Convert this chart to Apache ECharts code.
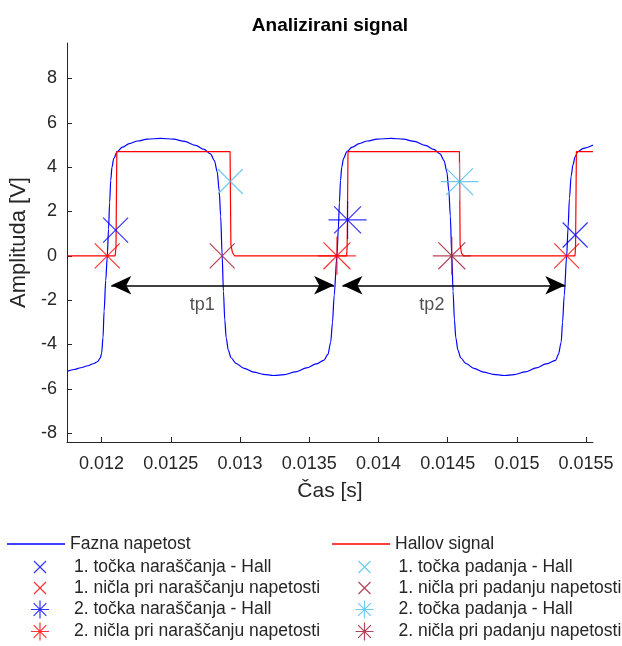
<!DOCTYPE html>
<html>
<head>
<meta charset="utf-8">
<script src="https://cdn.jsdelivr.net/npm/echarts@6/dist/echarts.min.js"></script>
<style>
html,body{margin:0;padding:0;background:#fff;}
#chart{width:622px;height:646px;}
</style>
</head>
<body>
<div id="chart"></div>
<script>
// ---------- data ----------
const xTicks = [0.012, 0.0125, 0.013, 0.0135, 0.014, 0.0145, 0.015, 0.0155];
const xTickLabels = ['0.012', '0.0125', '0.013', '0.0135', '0.014', '0.0145', '0.015', '0.0155'];
const yTicks = [-8, -6, -4, -2, 0, 2, 4, 6, 8];

const faznaT = [
  0.011755, 0.011800, 0.011850, 0.011900, 0.011940, 0.011970, 0.011990, 0.012000, 0.012010, 0.012018,
  0.012030, 0.012041, 0.012050, 0.012058, 0.012066, 0.012075, 0.012088, 0.012113, 0.012150, 0.012200,
  0.012260, 0.012330, 0.012426, 0.012520, 0.012600, 0.012680, 0.012740, 0.012786, 0.012815, 0.012835,
  0.012850, 0.012860, 0.012871, 0.012880, 0.012890, 0.012900, 0.012915, 0.012935, 0.012970, 0.013030,
  0.013100, 0.013170, 0.013243, 0.013320, 0.013400, 0.013480, 0.013550, 0.013604, 0.013635, 0.013655,
  0.013668, 0.013680, 0.013700, 0.013710, 0.013718, 0.013726, 0.013735, 0.013748, 0.013772, 0.013810,
  0.013860, 0.013920, 0.013990, 0.014090, 0.014180, 0.014260, 0.014340, 0.014400, 0.014445, 0.014474,
  0.014494, 0.014509, 0.014519, 0.014530, 0.014539, 0.014549, 0.014559, 0.014574, 0.014594, 0.014630,
  0.014690, 0.014760, 0.014830, 0.014910, 0.014980, 0.015060, 0.015140, 0.015210, 0.015280, 0.015300,
  0.015320, 0.015330, 0.015342, 0.015360, 0.015370, 0.015380, 0.015392, 0.015405, 0.015420, 0.015440,
  0.015480, 0.015550
];
const faznaV = [
  -5.20, -5.13, -5.05, -4.96, -4.87, -4.78, -4.62, -4.40, -3.70, -2.50,
  -1.10, 0.00, 1.20, 2.40, 3.40, 4.00, 4.40, 4.70, 4.90, 5.06,
  5.18, 5.26, 5.30, 5.26, 5.16, 4.98, 4.80, 4.60, 4.30, 3.80,
  2.90, 1.80, 0.00, -1.60, -2.90, -3.70, -4.25, -4.60, -4.85, -5.08,
  -5.25, -5.35, -5.40, -5.36, -5.24, -5.06, -4.88, -4.72, -4.45, -3.90,
  -3.00, -1.80, 0.00, 1.20, 2.40, 3.40, 4.00, 4.40, 4.70, 4.90,
  5.06, 5.18, 5.26, 5.30, 5.26, 5.16, 4.98, 4.80, 4.60, 4.30,
  3.80, 2.90, 1.80, 0.00, -1.60, -2.90, -3.70, -4.25, -4.60, -4.85,
  -5.08, -5.25, -5.35, -5.40, -5.36, -5.24, -5.06, -4.88, -4.72, -4.45,
  -3.90, -3.00, -1.80, 0.00, 1.30, 2.60, 3.60, 4.10, 4.45, 4.70,
  4.85, 5.00
];

const hallT = [0.011755, 0.012098, 0.012104, 0.012110, 0.012928, 0.012934, 0.012945, 0.012960,
               0.013770, 0.013774, 0.013780, 0.014585, 0.014590, 0.014600, 0.014615,
               0.015420, 0.015424, 0.015430, 0.015550];
const hallV = [0, 0, 0.4, 4.7, 4.7, 0.5, 0.15, 0,
               0, 0.4, 4.7, 4.7, 0.5, 0.12, 0,
               0, 0.4, 4.7, 4.7];

const hall1Rise = [[0.012101, 1.16], [0.015421, 0.94]];
const zero1Rise = [[0.012041, 0], [0.015360, 0]];
const hall2Rise = [[0.013777, 1.62]];
const zero2Rise = [[0.013700, 0]];
const hall1Fall = [[0.012930, 3.35]];
const zero1Fall = [[0.012871, 0]];
const hall2Fall = [[0.014586, 3.35]];
const zero2Fall = [[0.014530, 0]];

const arrowY = -1.33;
const arrowSpans = [[0.01207, 0.01368], [0.01374, 0.01535]];
const tpLabels = ['tp1', 'tp2'];
const tpPos = [[0.012727, -2.23], [0.014386, -2.23]];

const names = [
  'Fazna napetost', 'Hallov signal',
  '1. točka naraščanja - Hall', '1. točka padanja - Hall',
  '1. ničla pri naraščanju napetosti', '1. ničla pri padanju napetosti',
  '2. točka naraščanja - Hall', '2. točka padanja - Hall',
  '2. ničla pri naraščanju napetosti', '2. ničla pri padanju napetosti'
];

// ---------- styling ----------
const FONT = '"Liberation Sans", Arial, Helvetica, sans-serif';
const AX = '#262626';
const C_BLUE = '#0000ff', C_RED = '#ff0000', C_CYAN = '#4dbeee', C_BROWN = '#a2142f';
const X_PATH = 'path://M0 0L10 10M10 0L0 10';
const AST_PATH = 'path://M0 5L10 5M5 0L5 10M1.46 1.46L8.54 8.54M8.54 1.46L1.46 8.54';

function markerSeries(name, data, path, color, size) {
  return {
    name: name, type: 'scatter', data: data,
    symbol: path, symbolSize: size, symbolKeepAspect: true,
    itemStyle: { color: 'none', borderColor: color, borderWidth: 1.2 },
    emphasis: { disabled: true }, silent: true, z: 5
  };
}

const series = [
  {
    name: names[0], type: 'line',
    data: faznaT.map((t, i) => [t, faznaV[i]]),
    symbol: 'none', smooth: 0.3, smoothMonotone: 'x',
    lineStyle: { color: C_BLUE, width: 1.2 }, itemStyle: { color: C_BLUE },
    emphasis: { disabled: true }, silent: true, z: 2
  },
  {
    name: names[1], type: 'line',
    data: hallT.map((t, i) => [t, hallV[i]]),
    symbol: 'none',
    lineStyle: { color: C_RED, width: 1.2 }, itemStyle: { color: C_RED },
    emphasis: { disabled: true }, silent: true, z: 3
  },
  markerSeries(names[2], hall1Rise, X_PATH, C_BLUE, 25),
  markerSeries(names[4], zero1Rise, X_PATH, C_RED, 25),
  markerSeries(names[6], hall2Rise, AST_PATH, C_BLUE, 38),
  markerSeries(names[8], zero2Rise, AST_PATH, C_RED, 38),
  markerSeries(names[3], hall1Fall, X_PATH, C_CYAN, 25),
  markerSeries(names[5], zero1Fall, X_PATH, C_BROWN, 25),
  markerSeries(names[7], hall2Fall, AST_PATH, C_CYAN, 38),
  markerSeries(names[9], zero2Fall, AST_PATH, C_BROWN, 38),
  {
    name: 'annot', type: 'scatter',
    data: tpPos.map((p, i) => ({ value: p, name: tpLabels[i] })),
    symbolSize: 0, silent: true,
    label: { show: true, position: 'inside', formatter: p => p.name,
             fontSize: 18, color: AX, fontFamily: FONT },
    markLine: {
      silent: true, symbol: ['arrow', 'arrow'], symbolSize: [14, 20],
      lineStyle: { color: '#000', width: 1.5, type: 'solid' },
      label: { show: false },
      data: arrowSpans.map(s => [{ coord: [s[0], arrowY] }, { coord: [s[1], arrowY] }])
    },
    z: 6
  }
];

// legend layout
const rowCenters = [544, 567, 588, 609, 631];
const lineLeft = [7, 332];
const iconCenter = [37.5, 362];
const legendMeta = [
  { n: 0, c: 0, r: 0, kind: 'line', color: C_BLUE },
  { n: 1, c: 1, r: 0, kind: 'line', color: C_RED },
  { n: 2, c: 0, r: 1, kind: 'x', color: C_BLUE },
  { n: 3, c: 1, r: 1, kind: 'x', color: C_CYAN },
  { n: 4, c: 0, r: 2, kind: 'x', color: C_RED },
  { n: 5, c: 1, r: 2, kind: 'x', color: C_BROWN },
  { n: 6, c: 0, r: 3, kind: 'ast', color: C_BLUE },
  { n: 7, c: 1, r: 3, kind: 'ast', color: C_CYAN },
  { n: 8, c: 0, r: 4, kind: 'ast', color: C_RED },
  { n: 9, c: 1, r: 4, kind: 'ast', color: C_BROWN }
];
const legends = legendMeta.map(m => {
  const base = {
    data: [names[m.n]], top: rowCenters[m.r] - 11,
    orient: 'horizontal', padding: 0, itemWidth: 58, selectedMode: false,
    textStyle: { fontSize: 17.5, color: AX, fontFamily: FONT, lineHeight: 22 }
  };
  if (m.kind === 'line') {
    base.icon = 'rect';
    base.itemHeight = 1.4;
    base.left = lineLeft[m.c];
    base.itemStyle = { color: m.color, borderWidth: 0 };
  } else {
    const s = m.kind === 'x' ? 12 : 18;
    base.icon = m.kind === 'x' ? X_PATH : AST_PATH;
    base.itemHeight = s;
    base.left = iconCenter[m.c] - s / 2;
    base.itemStyle = { color: 'none', borderColor: m.color, borderWidth: 1.2 };
  }
  return base;
});

const option = {
  animation: false,
  backgroundColor: '#fff',
  title: {
    text: 'Analizirani signal', left: 330, top: 16, padding: 0, textAlign: 'center',
    textStyle: { fontSize: 19, fontWeight: 'bold', color: '#000', fontFamily: FONT }
  },
  grid: { left: 67, top: 43, width: 526, height: 399, containLabel: false },
  legend: legends,
  xAxis: {
    type: 'value', min: 0.01175, max: 0.01555,
    name: 'Čas [s]', nameLocation: 'middle', nameGap: 39,
    nameTextStyle: { fontSize: 21, color: AX, fontFamily: FONT },
    axisLine: { show: true, onZero: false, lineStyle: { color: AX, width: 1 } },
    axisTick: { show: true, inside: true, length: 5, customValues: xTicks, lineStyle: { color: AX } },
    axisLabel: {
      customValues: xTicks, fontSize: 18, color: AX, fontFamily: FONT, margin: 13,
      formatter: v => {
        let best = 0;
        xTicks.forEach((t, i) => { if (Math.abs(t - v) < Math.abs(xTicks[best] - v)) best = i; });
        return xTickLabels[best];
      }
    },
    splitLine: { show: false }
  },
  yAxis: {
    type: 'value', min: -8.4, max: 9.6,
    name: 'Amplituda [V]', nameLocation: 'middle', nameGap: 31, nameRotate: 90,
    nameTextStyle: { fontSize: 22, color: AX, fontFamily: FONT },
    axisLine: { show: true, onZero: false, lineStyle: { color: AX, width: 1 } },
    axisTick: { show: true, inside: true, length: 5, customValues: yTicks, lineStyle: { color: AX } },
    axisLabel: { customValues: yTicks, fontSize: 18, color: AX, fontFamily: FONT, margin: 10,
                 formatter: v => String(Math.round(v)) },
    splitLine: { show: false }
  },
  series: series
};

const chart = echarts.init(document.getElementById('chart'), null, { renderer: 'canvas' });
chart.setOption(option);
</script>
</body>
</html>
